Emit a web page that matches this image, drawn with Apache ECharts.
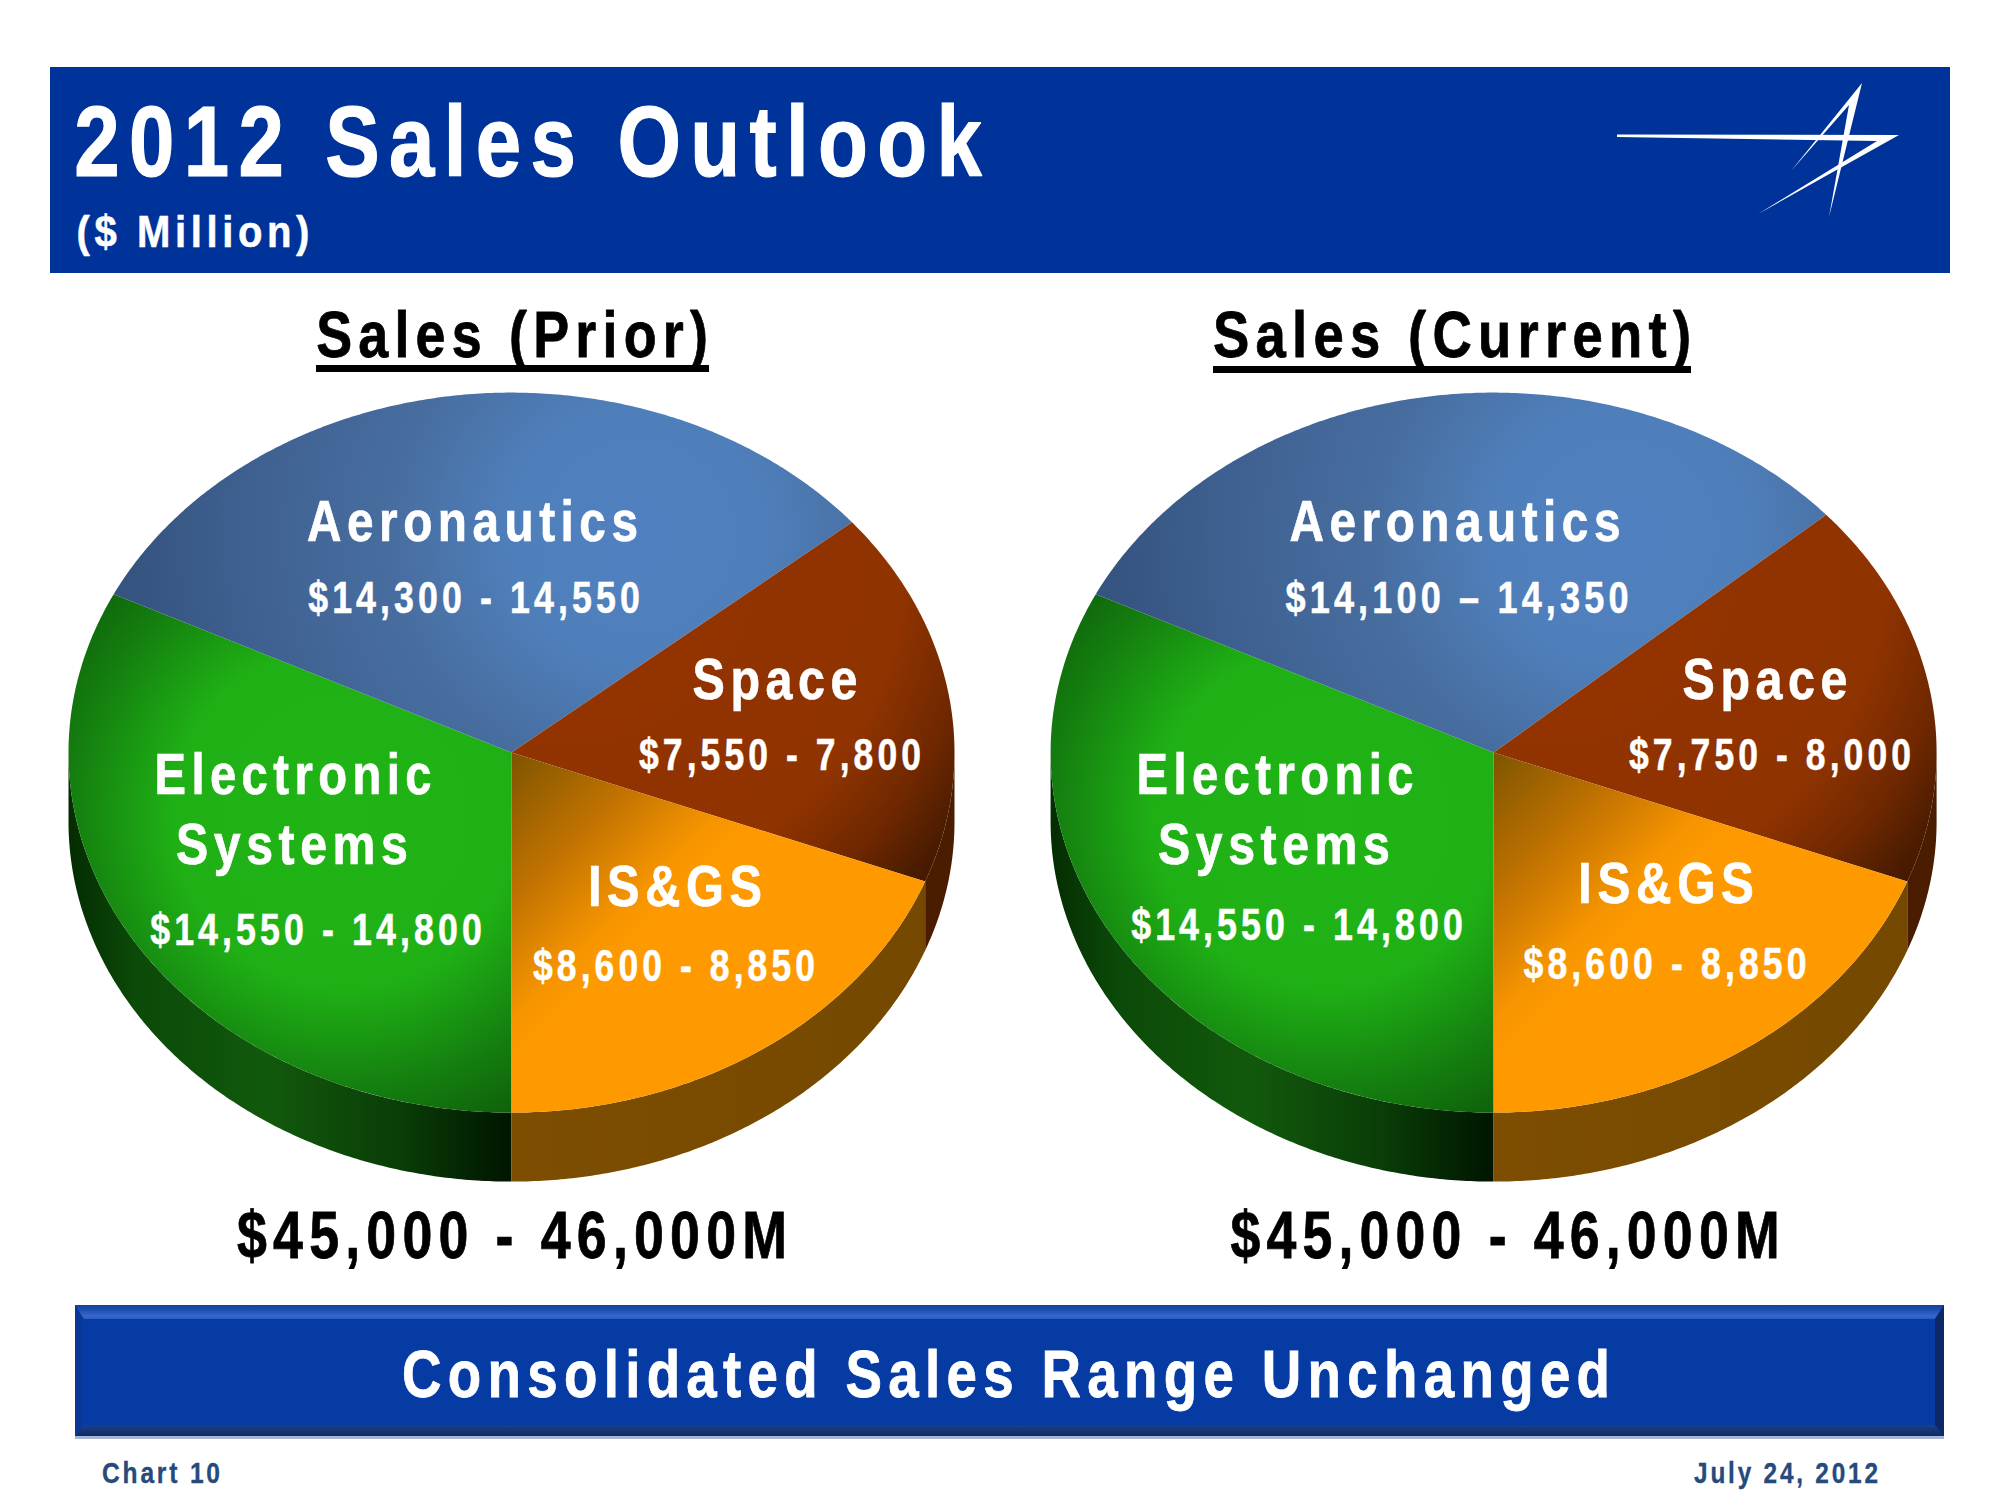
<!DOCTYPE html>
<html><head><meta charset="utf-8">
<style>html,body{margin:0;padding:0;background:#fff}#c{width:2000px;height:1500px}text{letter-spacing:.115em}</style>
<script src="https://cdn.jsdelivr.net/npm/echarts@6/dist/echarts.min.js"></script>
</head><body><div id="c"></div>
<script>
// ---- data
const categories = ['Electronic Systems','Aeronautics','Space','IS&GS'];
const priorLow   = [14550,14300,7550,8600];
const priorHigh  = [14800,14550,7800,8850];
const currentLow = [14550,14100,7750,8600];
const currentHigh= [14800,14350,8000,8850];
const totalLabel = '$45,000 - 46,000M';

// ---- layout (not data)
const PIE_RX=443, PIE_RY=360, PIE_DEPTH=69, PIE_CY=752.6;
const PIE_CX=[511.5,1493.6];
const FONT='"Liberation Sans", Arial, sans-serif';
const SPACING=0.115;
const WHITE='#ffffff', BLACK='#000000', FOOT='#264a7c';
// text, centre x, baseline y, font size, visible width, colour
const textTable=[
 ['2012 Sales Outlook',528,176,100,908,WHITE],
 ['($ Million)',193,247,45,233,WHITE],
 ['Sales (Prior)',512,357,65,392,BLACK],
 ['Sales (Current)',1452,357,65,478,BLACK],
 [totalLabel,512,1258,67,550,BLACK],
 [totalLabel,1505,1258,67,549,BLACK],
 ['Consolidated Sales Range Unchanged',1006,1397,67,1209,WHITE],
 ['Chart 10',161,1483,29,118,FOOT],
 ['July 24, 2012',1786,1483,29,184,FOOT],
 ['Aeronautics',472.5,541,57,331,WHITE],
 ['$14,300 - 14,550',474,613,44,332,WHITE],
 ['Space',775,699,57,165,WHITE],
 ['$7,550 - 7,800',780,770,44,282,WHITE],
 ['Electronic',293,794,57,277,WHITE],
 ['Systems',292,864,57,232,WHITE],
 ['$14,550 - 14,800',316,945,44,332,WHITE],
 ['IS&GS',675,906,57,174,WHITE],
 ['$8,600 - 8,850',674,981,44,282,WHITE],
 ['Aeronautics',1455,541,57,331,WHITE],
 ['$14,100 \u2013 14,350',1457,613,44,343,WHITE],
 ['Space',1765,699,57,165,WHITE],
 ['$7,750 - 8,000',1770,770,44,282,WHITE],
 ['Electronic',1275,794,57,277,WHITE],
 ['Systems',1274,864,57,232,WHITE],
 ['$14,550 - 14,800',1297,940,44,332,WHITE],
 ['IS&GS',1666,903,57,176,WHITE],
 ['$8,600 - 8,850',1665,979,44,283,WHITE]
];

const mctx=document.createElement('canvas').getContext('2d');
function textEl(t){
  const [s,cx,base,fs,w,col]=t;
  mctx.font='bold '+fs+'px '+FONT;
  const sp=SPACING*fs, raw=mctx.measureText(s).width+(s.length-1)*sp;
  const sx=w/raw;
  return {type:'text',z:10,x:cx+sx*sp/2,y:base-0.3465*fs,scaleX:sx,silent:true,
    style:{text:s,x:0,y:0,fill:col,stroke:col,lineWidth:fs*0.012,font:'bold '+fs+'px '+FONT,textAlign:'center',textVerticalAlign:'middle'}};
}
const L=echarts.graphic.LinearGradient, R=echarts.graphic.RadialGradient;
function stops(a){return a.map(p=>({offset:p[0],color:p[1]}));}

// gradient for each slice's top face, relative to pie centre
function topFill(i,cx){
  const cy=PIE_CY;
  if(i===0) return new R(cx-167,cy+64,345,stops([[0,'#20b416'],[.5,'#1fb015'],[.8,'#147d0f'],[1,'#0e5f0a']]),true);
  if(i===1) return new R(cx+126,cy-217,500,stops([[0,'#5080bf'],[.25,'#4f7fbb'],[.5,'#476d9f'],[.8,'#3e6090'],[1,'#365480']]),true);
  if(i===2) return new R(cx+60,cy-190,475,stops([[0,'#953300'],[.7,'#8f3300'],[.85,'#702800'],[.95,'#501e00'],[1,'#451800']]),true);
  return new L(cx,cy,cx+156,cy+156,stops([[0,'#7d5400'],[.5,'#c47400'],[.85,'#f59400'],[1,'#fe9a00']]),true);
}
function wallFill(i,cx){
  if(i===0) return new L(cx-PIE_RX,0,cx,0,stops([[0,'#042c02'],[.15,'#0b4a08'],[.45,'#11590c'],[.75,'#0a3d07'],[1,'#001500']]),true);
  if(i===2) return '#4a1c00';
  return new L(cx,0,cx+PIE_RX,0,stops([[0,'#7d4e00'],[1,'#744800']]),true);
}
function pt(cx,cy,deg){const a=deg*Math.PI/180;return [cx+PIE_RX*Math.sin(a),cy-PIE_RY*Math.cos(a)];}
function arc(cx,cy,a,b){const n=Math.max(2,Math.ceil(Math.abs(b-a)*2)),o=[];for(let k=0;k<=n;k++)o.push(pt(cx,cy,a+(b-a)*k/n));return o;}

function pieSeries(name,low,high,cx){
  const mids=low.map((v,i)=>(v+high[i])/2), total=mids.reduce((a,b)=>a+b,0);
  const data=categories.map((c,i)=>({name:c,value:[low[i],high[i]]}));
  return {type:'custom',name,coordinateSystem:'none',silent:true,animation:false,clip:false,data,
    renderItem(p,api){
      const i=p.dataIndex;
      let before=0;for(let k=0;k<i;k++)before+=mids[k];
      const a=180+before/total*360, b=a+(api.value(0)+api.value(1))/2/total*360;
      const ch=[];
      // the front of the pie is the arc from 90 to 270 degrees (450 to 630 after a full turn)
      [[90,270],[450,630]].forEach(function(fr){
        const wa=Math.max(a,fr[0]), wb=Math.min(b,fr[1]);
        if(wb>wa){
          const topArc=arc(cx,PIE_CY,wa,wb), botArc=arc(cx,PIE_CY+PIE_DEPTH,wa,wb).reverse();
          ch.push({type:'polygon',shape:{points:topArc.concat(botArc)},style:{fill:wallFill(i,cx),stroke:null}});
        }
      });
      ch.push({type:'polygon',shape:{points:[[cx,PIE_CY]].concat(arc(cx,PIE_CY,a,b))},style:{fill:topFill(i,cx),stroke:null}});
      return {type:'group',children:ch};
    }};
}

const banner=[
 {type:'rect',z:1,shape:{x:50,y:67,width:1900,height:206},style:{fill:'#003399'}},
 {type:'polygon',z:2,shape:{points:[[1617,134.5],[1899,135],[1758,214],[1877,141],[1617,137]]},style:{fill:'#fff'}},
 {type:'polygon',z:2,shape:{points:[[1862,83],[1829,217],[1849,105],[1791,171]]},style:{fill:'#fff'}},
 {type:'rect',z:2,shape:{x:316,y:365,width:393,height:7},style:{fill:'#000'}},
 {type:'rect',z:2,shape:{x:1213,y:366,width:478,height:7},style:{fill:'#000'}}
];
const BX=75,BY=1305,BW=1869,BH=134;
const bar=[
 {type:'rect',z:1,shape:{x:BX,y:BY,width:BW,height:BH},style:{fill:'#063ba4'}},
 {type:'polygon',z:2,shape:{points:[[BX,BY],[BX+BW,BY],[BX+BW-9,BY+14],[BX+9,BY+14]]},
   style:{fill:new L(0,BY,0,BY+14,stops([[0,'#134296'],[.3,'#1a4cae'],[.8,'#3767cd'],[1,'#2a5bc0']]),true)}},
 {type:'polygon',z:2,shape:{points:[[BX,BY+BH-3],[BX+BW,BY+BH-3],[BX+BW-9,BY+BH-14],[BX+9,BY+BH-14]]},
   style:{fill:new L(0,BY+BH-14,0,BY+BH-3,stops([[0,'#1c3f8a'],[1,'#0f2b62']]),true)}},
 {type:'polygon',z:2,shape:{points:[[BX+BW,BY],[BX+BW,BY+BH-3],[BX+BW-9,BY+BH-14],[BX+BW-9,BY+14]]},style:{fill:'#0c2866'}},
 {type:'polygon',z:2,shape:{points:[[BX,BY],[BX,BY+BH-3],[BX+7,BY+BH-14],[BX+7,BY+14]]},style:{fill:'#0a3794'}},
 {type:'rect',z:2,shape:{x:BX,y:BY+BH-3,width:BW,height:3},style:{fill:'#a6b6d6'}}
];

const chart=echarts.init(document.getElementById('c'),null,{renderer:'svg',width:2000,height:1500});
chart.setOption({
  backgroundColor:'#ffffff',animation:false,
  series:[pieSeries('Sales (Prior)',priorLow,priorHigh,PIE_CX[0]),pieSeries('Sales (Current)',currentLow,currentHigh,PIE_CX[1])],
  graphic:{elements:banner.concat(bar,textTable.map(textEl))}
});
</script></body></html>
